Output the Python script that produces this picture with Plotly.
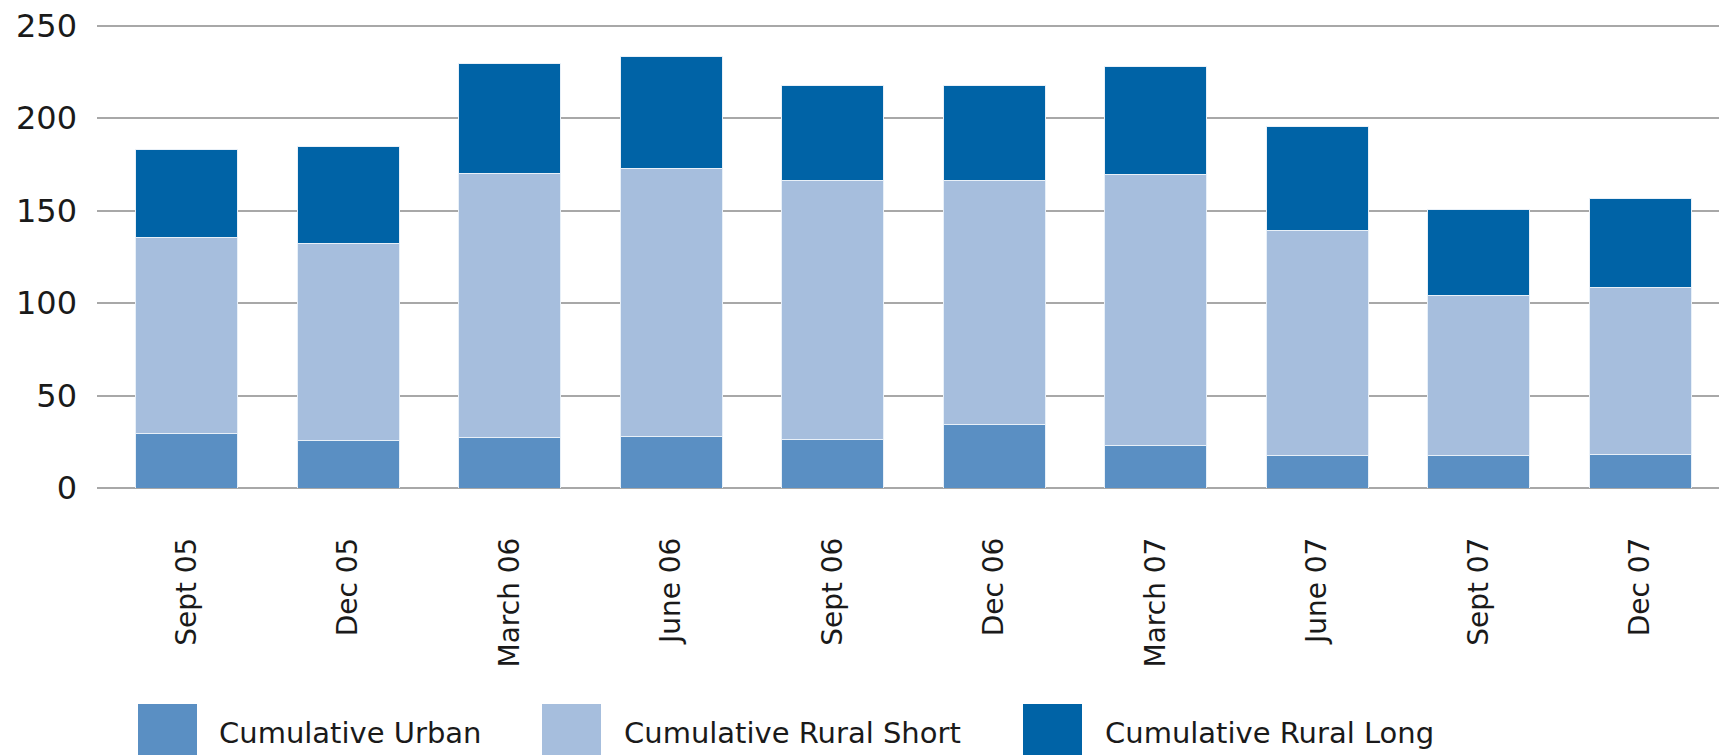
import plotly.graph_objects as go

categories = ["Sept 05", "Dec 05", "March 06", "June 06", "Sept 06",
              "Dec 06", "March 07", "June 07", "Sept 07", "Dec 07"]
urban = [29.5, 25.7, 27.2, 27.7, 26.0, 34.4, 22.9, 17.5, 17.5, 18.2]
rural_short = [106.0, 106.6, 142.9, 145.0, 140.6, 132.2, 146.5, 122.0, 86.7, 90.3]
rural_long = [47.6, 52.7, 59.4, 60.7, 51.0, 51.0, 58.6, 55.9, 46.5, 48.3]
series_names = ["Cumulative Urban", "Cumulative Rural Short", "Cumulative Rural Long"]
colors = ["#5A8FC3", "#A6BEDD", "#0063A6"]
y_ticks = [0, 50, 100, 150, 200, 250]

OFF = 8  # page body margin
W, H = 1727 - OFF, 755 - OFF
L, R = 97 - OFF, 2
T = 23.85 - OFF
B = H - (488 - OFF)
PW, PH = W - L - R, H - T - B

fig = go.Figure()
for name, vals, col in zip(series_names, [urban, rural_short, rural_long], colors):
    fig.add_trace(go.Bar(
        x=list(range(len(categories))), y=vals, name=name,
        marker=dict(color=col, line=dict(color="#E8F0F8", width=1)),
        showlegend=False,
    ))

# manual legend (large square swatches like the reference), page pixel positions
sw_x = [138, 542, 1023]
txt_x = [217, 622, 1103]
def px_x(p):
    return (p - OFF - L) / PW
def px_y(p):
    return (H - B - (p - OFF)) / PH
for name, col, sx, tx in zip(series_names, colors, sw_x, txt_x):
    fig.add_shape(type="rect", xref="paper", yref="paper",
                  x0=px_x(sx), x1=px_x(sx + 59), y0=px_y(704), y1=px_y(770),
                  fillcolor=col, line=dict(width=0))
    fig.add_annotation(text=name, xref="paper", yref="paper",
                       x=px_x(tx), y=px_y(733), xanchor="left", yanchor="middle",
                       showarrow=False,
                       font=dict(family="DejaVu Sans", size=29, color="#1a1a1a"))

fig.update_layout(
    width=W, height=H,
    margin=dict(l=L, r=R, t=T, b=B, autoexpand=False),
    barmode="stack", bargap=0.366,
    plot_bgcolor="white", paper_bgcolor="white",
)
fig.update_xaxes(
    range=[-0.556, 9.525],
    tickmode="array", tickvals=list(range(len(categories))), ticktext=categories,
    tickangle=-90, showgrid=False, zeroline=False, showline=False,
    ticks="", ticklabelstandoff=43,
    tickfont=dict(family="DejaVu Sans", size=28, color="#1a1a1a"),
)
fig.update_yaxes(
    range=[0, 251], tickvals=y_ticks,
    showgrid=True, gridcolor="#A8A8A8", gridwidth=1.5,
    zeroline=True, zerolinecolor="#A8A8A8", zerolinewidth=1.5,
    showline=False, ticks="", ticklabelstandoff=19,
    ticklabeloverflow="allow",
    tickfont=dict(family="DejaVu Sans", size=32, color="#1a1a1a"),
)

fig.write_html("out.html")
